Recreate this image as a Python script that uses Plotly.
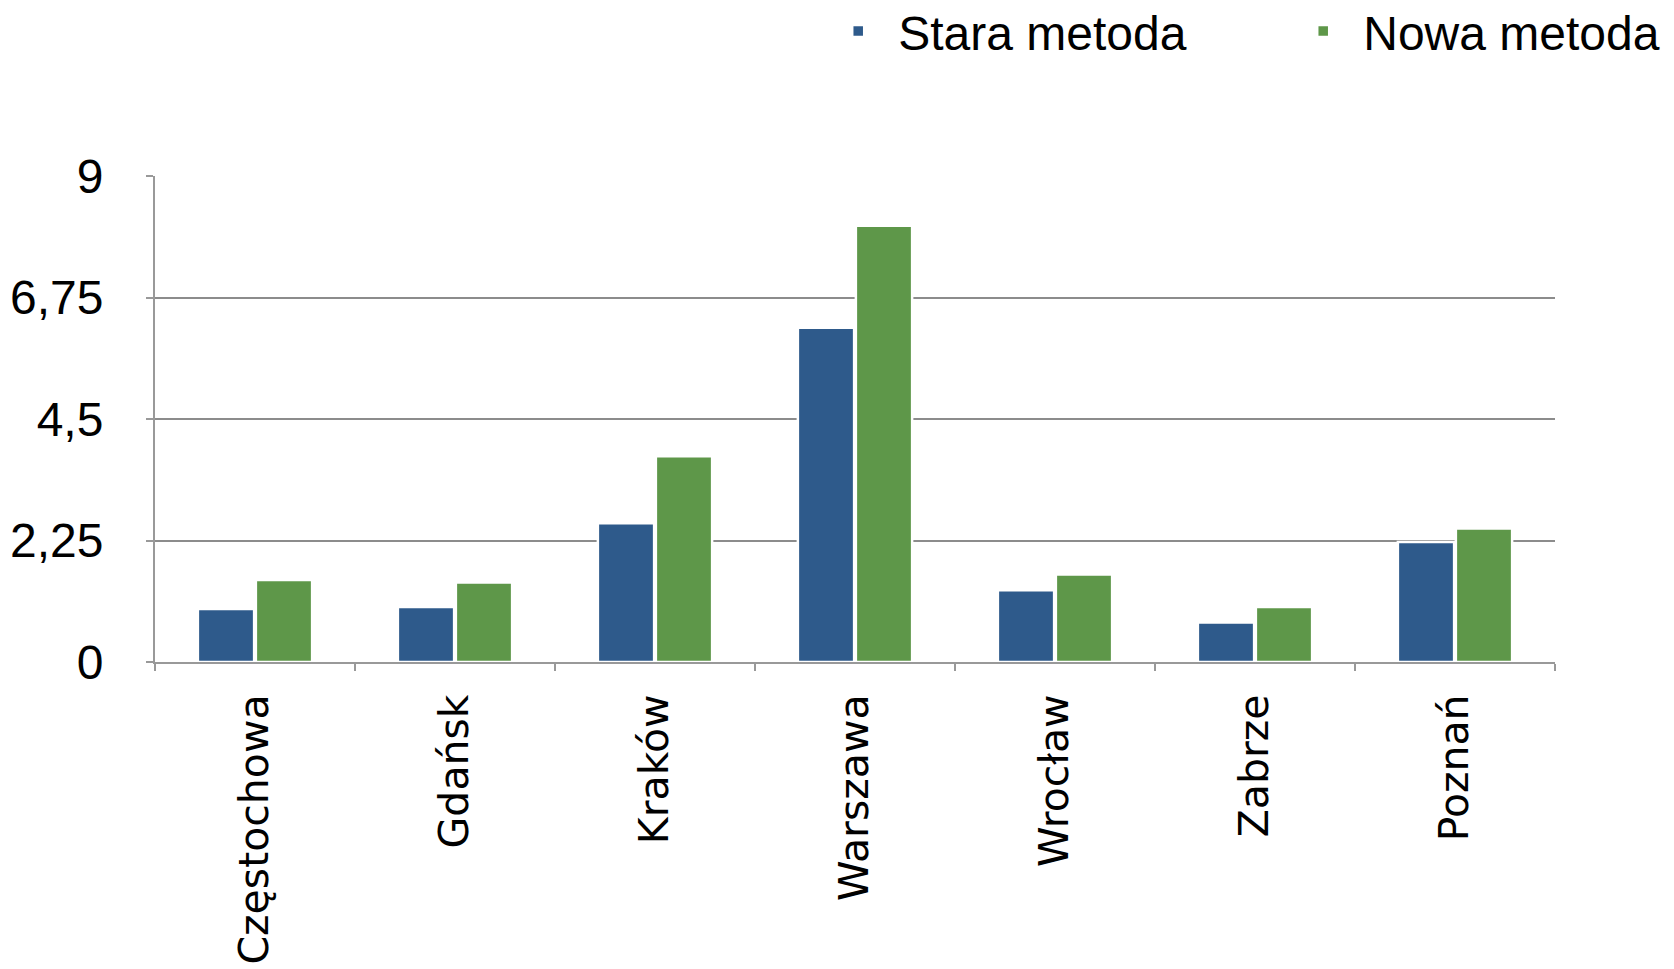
import plotly.graph_objects as go

cities = ["Częstochowa", "Gdańsk", "Kraków", "Warszawa", "Wrocław", "Zabrze", "Poznań"]
stara = [0.98, 1.02, 2.57, 6.19, 1.33, 0.73, 2.22]
nowa = [1.52, 1.47, 3.81, 8.08, 1.62, 1.02, 2.47]

y_ticks = [0, 2.25, 4.5, 6.75, 9]
y_labels = ["0", "2,25", "4,5", "6,75", "9"]

fig = go.Figure(
    data=[
        go.Bar(x=cities, y=stara, name="Stara metoda",
               marker=dict(color="#2E5A8B", line=dict(color="white", width=2.5))),
        go.Bar(x=cities, y=nowa, name="Nowa metoda",
               marker=dict(color="#5E9749", line=dict(color="white", width=2.5))),
    ]
)

# the page body adds 8px on the left and top
fig.update_layout(
    width=1674, height=969,
    margin=dict(l=147, r=127, t=168, b=315, autoexpand=False),
    paper_bgcolor="white", plot_bgcolor="white",
    font=dict(family="Liberation Sans, Arial, sans-serif", color="black"),
    barmode="group", bargap=0.42, bargroupgap=0.03,
    showlegend=True,
    legend=dict(
        orientation="h", xref="container", yref="container",
        x=0.484, xanchor="left", y=0.976, yanchor="middle",
        font=dict(size=48), itemwidth=70,
        entrywidth=380, entrywidthmode="pixels",
        bgcolor="rgba(0,0,0,0)",
    ),
)

fig.update_yaxes(
    range=[0, 9], tickvals=y_ticks, ticktext=y_labels,
    showgrid=True, gridcolor="#8c8c8c", gridwidth=2,
    showline=True, linecolor="#999999", linewidth=2,
    ticks="outside", ticklen=7, tickcolor="#999999", tickwidth=2,
    ticklabelstandoff=33, automargin=False,
    tickfont=dict(size=48),
    zeroline=False,
)

fig.update_xaxes(
    tickangle=-90, tickson="boundaries",
    showline=True, linecolor="#999999", linewidth=2,
    ticks="outside", ticklen=7, tickcolor="#999999", tickwidth=2,
    ticklabelstandoff=14, automargin=False,
    tickfont=dict(size=41, family="DejaVu Sans, sans-serif"),
    showgrid=False,
)

fig.write_html("out.html")
